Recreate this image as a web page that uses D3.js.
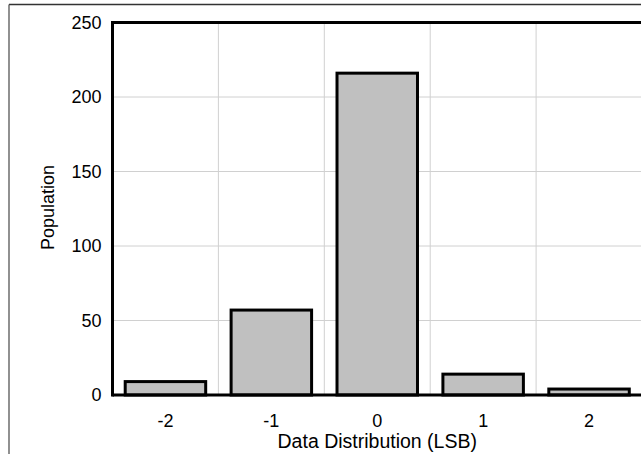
<!DOCTYPE html>
<html>
<head>
<meta charset="utf-8">
<script src="https://cdn.jsdelivr.net/npm/d3@7"></script>
<style>
  html, body { margin: 0; padding: 0; background: #fff; }
  svg { display: block; font-family: Arial, "Liberation Sans", sans-serif; }
</style>
</head>
<body>
<svg id="chart" width="641" height="454"></svg>
<script>
const categories = ["-2", "-1", "0", "1", "2"];
const values = [9, 57, 216, 14, 4];
const yTicks = [0, 50, 100, 150, 200, 250];
const xTitle = "Data Distribution (LSB)";
const yTitle = "Population";

(function () {
const svg = d3.select("#chart");
const pLeft = 112.5, pRight = 642, pTop = 22.5, pBottom = 395;
const font = "Arial, 'Liberation Sans', sans-serif";

const x = d3.scaleBand().domain(categories).range([pLeft, pRight])
  .paddingInner(0.24).paddingOuter(0.12);
const y = d3.scaleLinear().domain([0, 250]).range([pBottom, pTop]);

// outer frame lines
svg.append("line").attr("x1", 9).attr("x2", 641).attr("y1", 4.5).attr("y2", 4.5)
  .attr("stroke", "#333").attr("stroke-width", 1.3);
svg.append("line").attr("x1", 9).attr("x2", 9).attr("y1", 4.5).attr("y2", 454)
  .attr("stroke", "#555").attr("stroke-width", 1.3);

// horizontal grid
svg.append("g").selectAll("line").data(yTicks.filter(d => d > 0 && d < 250)).join("line")
  .attr("x1", pLeft).attr("x2", pRight)
  .attr("y1", d => y(d)).attr("y2", d => y(d))
  .attr("stroke", "#d0d0d0").attr("stroke-width", 1);

// vertical grid at band boundaries
const step = x.step();
const bounds = categories.slice(1).map(c => x(c) - step * x.paddingInner() / 2);
svg.append("g").selectAll("line").data(bounds).join("line")
  .attr("x1", d => d).attr("x2", d => d)
  .attr("y1", pTop).attr("y2", pBottom)
  .attr("stroke", "#d0d0d0").attr("stroke-width", 1);

// bars
svg.append("g").selectAll("rect").data(values).join("rect")
  .attr("x", (d, i) => x(categories[i]))
  .attr("width", x.bandwidth())
  .attr("y", d => y(d))
  .attr("height", d => y(0) - y(d))
  .attr("fill", "#c0c0c0").attr("stroke", "#000").attr("stroke-width", 3);

// axes
const yAxis = d3.axisLeft(y).tickValues(yTicks).tickSize(0).tickPadding(11);
const gy = svg.append("g").attr("transform", `translate(${pLeft},0)`).call(yAxis);
gy.select(".domain").remove();
gy.selectAll("text").attr("font-size", 18).attr("fill", "#000").attr("font-family", font);

const xAxis = d3.axisBottom(x).tickSize(0).tickPadding(19);
const gx = svg.append("g").attr("transform", `translate(0,${pBottom})`).call(xAxis);
gx.select(".domain").remove();
gx.selectAll("text").attr("font-size", 18).attr("fill", "#000").attr("font-family", font);

// frame lines of plot
svg.append("line").attr("x1", pLeft).attr("x2", pRight).attr("y1", pTop).attr("y2", pTop)
  .attr("stroke", "#000").attr("stroke-width", 3);
svg.append("line").attr("x1", pLeft).attr("x2", pLeft).attr("y1", pTop - 1.5).attr("y2", pBottom + 1.5)
  .attr("stroke", "#000").attr("stroke-width", 3);
svg.append("line").attr("x1", pLeft).attr("x2", pRight).attr("y1", pBottom).attr("y2", pBottom)
  .attr("stroke", "#000").attr("stroke-width", 3);

// titles
svg.append("text").attr("x", (pLeft + pRight) / 2).attr("y", 448)
  .attr("text-anchor", "middle").attr("font-size", 19.5).attr("font-family", font).text(xTitle);
svg.append("text").attr("transform", `translate(53.5,207.5) rotate(-90)`)
  .attr("text-anchor", "middle").attr("font-size", 18).attr("font-family", font).text(yTitle);
})();
</script>
</body>
</html>
